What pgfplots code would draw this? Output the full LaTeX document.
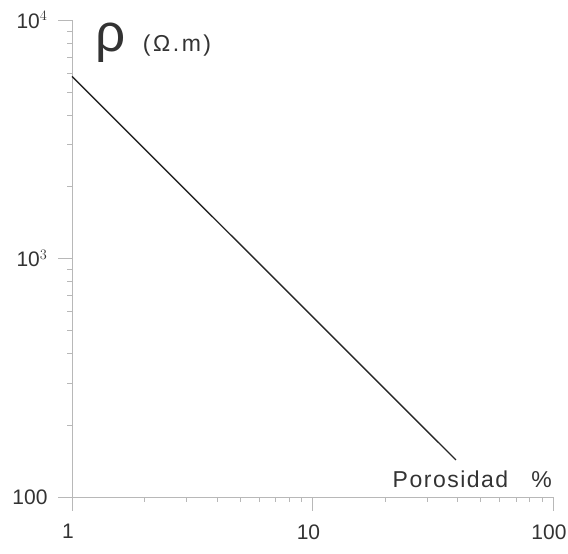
\documentclass[border=0pt]{standalone}
\usepackage{fontspec}
\setmainfont{Liberation Sans}
\usepackage{pgfplots}
\pgfplotsset{compat=1.18}
\usetikzlibrary{calc}
\definecolor{txt}{HTML}{333333}
\definecolor{ax}{HTML}{B8B8B8}

\begin{document}
\begin{tikzpicture}
\begin{axis}[
  scale only axis, width=481pt, height=477pt,
  xmode=log, ymode=log,
  xmin=1, xmax=100, ymin=100, ymax=10000,
  axis lines=left, axis line style={ax, line width=0.6pt, -},
  every tick/.style={ax, line width=0.5pt},
  major tick length=14pt, minor tick length=5pt,
  tick align=outside,
  xtick={1,10,100}, xticklabels={1,10,100},
  ytick={100,1000,10000}, yticklabels={100,10$^3$,10$^4$},
  ticklabel style={font=\fontsize{21}{21}\selectfont, text=txt},
  /pgf/number format/assume math mode=true,
  xticklabel style={yshift=-10pt, xshift=-4pt},
  yticklabel style={xshift=-7pt},
  clip=false,
]
\addplot[black!85, line width=1.4pt] coordinates {(1,5800) (39.5,143)};
\coordinate (ll) at (rel axis cs:0,0);
\coordinate (ur) at (rel axis cs:1,1);
\node[anchor=base west, inner sep=0pt, text=txt, font=\fontsize{53}{53}\selectfont] at (axis cs:1.25,7350) {ρ};
\node[anchor=base west, inner sep=0pt, text=txt, font=\fontsize{23}{23}\selectfont] at (axis cs:1.97,7400) {(\kern2.5ptΩ\kern2.5pt.\kern2.5ptm\kern2.5pt)};
\node[anchor=base east, inner sep=0pt, text=txt, font=\fontsize{23}{23}\selectfont] at (axis cs:99,110) {P\kern1.5pt o\kern1.5pt r\kern1.5pt o\kern1.5pt s\kern1.5pt i\kern1.5pt d\kern1.5pt a\kern1.5pt d\quad\%};
\end{axis}
\pgfresetboundingbox
\path[use as bounding box] ($(ll)+(-72pt,-56pt)$) rectangle ($(ur)+(15pt,20pt)$);
\end{tikzpicture}
\end{document}
